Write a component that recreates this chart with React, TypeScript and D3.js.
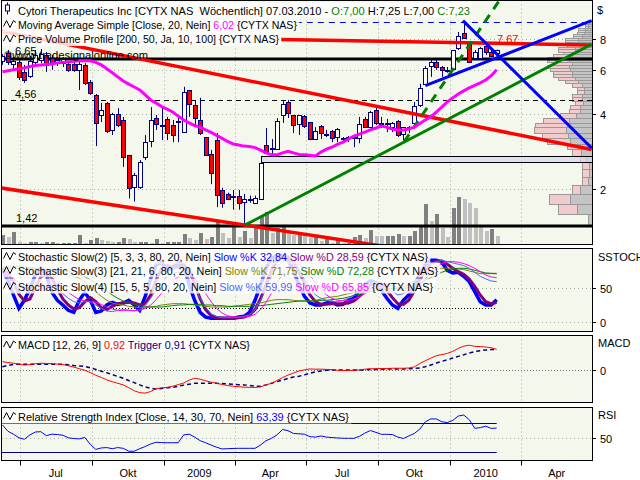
import React, { useEffect, useRef } from "react";
import * as d3 from "d3";

// ---------------- DATA ----------------
const weekStart = "2008-06-09";
const weekEnd = "2010-03-01";

const opens = [6.55, 7.02, 6.34, 6.46, 5.90, 5.69, 6.46, 6.58, 6.89, 6.71,
  6.46, 6.40, 6.34, 6.34, 6.01, 6.29, 5.38, 4.77, 3.96, 4.43,
  3.45, 4.00, 3.78, 2.74, 2.03, 2.03, 2.69, 3.11, 3.85, 3.61,
  3.82, 3.61, 3.75, 3.38, 4.99, 4.34, 3.78, 3.23, 2.77, 3.14,
  1.98, 1.91, 1.88, 1.88, 1.78, 1.81, 1.76, 1.83, 3.00, 2.92,
  2.89, 3.96, 4.47, 3.96, 3.64, 3.93, 3.71, 3.17, 3.58, 3.32,
  3.41, 3.23, 3.20, 3.23, 3.20, 3.20, 3.82, 3.54, 4.15, 3.68,
  3.68, 3.54, 3.75, 3.32, 3.54, 3.68, 4.34, 5.28, 6.23, 6.46,
  6.17, 6.01, 6.06, 7.35, 8.45, 7.70, 6.71, 6.71, 7.49, 7.09,
  7.00];
const highs = [6.95, 7.22, 6.77, 6.58, 6.29, 6.83, 7.22, 7.29, 7.09, 6.89,
  6.77, 6.77, 6.52, 6.46, 6.46, 6.40, 5.47, 4.81, 4.43, 4.47,
  4.04, 4.22, 3.89, 2.74, 2.32, 2.61, 3.29, 4.26, 3.96, 4.26,
  3.89, 3.78, 3.89, 5.14, 4.99, 4.55, 4.64, 3.23, 2.87, 3.35,
  2.02, 1.93, 1.98, 1.98, 1.91, 1.88, 1.88, 2.61, 3.51, 3.17,
  3.85, 4.55, 4.55, 3.96, 3.96, 3.96, 3.71, 3.54, 3.61, 3.45,
  3.45, 3.51, 3.23, 3.26, 3.29, 3.89, 3.89, 4.11, 4.22, 3.89,
  3.82, 3.71, 3.78, 3.54, 3.58, 4.47, 5.28, 6.23, 6.58, 6.58,
  6.23, 6.17, 7.22, 8.53, 9.44, 7.70, 7.22, 7.42, 7.49, 7.22,
  7.25];
const lows = [6.30, 6.29, 6.01, 5.47, 5.33, 5.58, 6.23, 6.40, 5.90, 6.01,
  6.23, 6.17, 5.90, 5.90, 4.99, 5.23, 4.77, 2.97, 3.71, 3.35,
  3.29, 3.54, 2.45, 1.83, 1.78, 2.00, 2.61, 2.94, 3.45, 3.14,
  3.14, 3.08, 3.08, 3.38, 3.89, 3.54, 3.29, 2.74, 2.09, 1.69,
  1.68, 1.81, 1.65, 1.65, 1.42, 1.76, 1.75, 1.81, 2.77, 2.69,
  2.89, 3.68, 3.85, 3.35, 3.29, 3.51, 3.14, 3.14, 3.17, 3.23,
  3.08, 3.08, 3.05, 3.08, 2.94, 3.05, 3.51, 3.51, 3.61, 3.51,
  3.38, 3.38, 3.23, 3.14, 3.35, 3.61, 4.26, 5.23, 5.63, 6.01,
  5.63, 5.85, 6.01, 7.22, 8.07, 6.40, 6.58, 6.58, 6.89, 6.77,
  7.00];
const closes = [6.85, 6.46, 6.52, 5.63, 5.47, 6.52, 6.89, 6.96, 6.29, 6.34,
  6.58, 6.65, 6.01, 6.01, 6.34, 5.33, 4.86, 3.68, 4.15, 3.41,
  4.00, 3.61, 2.69, 2.02, 2.27, 2.57, 3.08, 3.78, 3.64, 3.60,
  3.35, 3.29, 3.71, 4.90, 4.39, 3.85, 3.35, 2.74, 2.32, 1.89,
  1.75, 1.83, 1.86, 1.75, 1.83, 1.83, 1.84, 2.55, 2.79, 2.89,
  3.75, 4.39, 4.04, 3.61, 3.96, 3.58, 3.17, 3.41, 3.35, 3.31,
  3.20, 3.48, 3.19, 3.22, 3.23, 3.64, 3.54, 4.07, 3.68, 3.67,
  3.67, 3.68, 3.29, 3.54, 3.53, 4.30, 5.09, 6.12, 6.46, 6.17,
  6.01, 6.00, 7.22, 8.22, 8.10, 6.46, 7.09, 7.35, 7.09, 6.83,
  7.23];
const volumes = [900, 700, 1200, 200, 130, 230, 230, 130, 230, 230,
  130, 130, 130, 130, 900, 130, 400, 630, 400, 300,
  230, 230, 630, 470, 230, 230, 230, 130, 470, 70,
  230, 230, 230, 1000, 630, 400, 1130, 470, 730, 2230,
  1130, 570, 2070, 730, 1330, 630, 1730, 2730, 3230, 1070,
  1570, 1730, 1070, 900, 900, 800, 630, 800, 300, 470,
  130, 400, 130, 130, 670, 900, 630, 1400, 830, 800,
  800, 800, 1000, 800, 800, 1300, 1700, 4000, 2330, 3000,
  1600, 730, 3630, 4730, 4500, 4070, 3630, 1730, 1300, 1500,
  800];
const ma20 = [5.90, 5.96, 6.01, 6.07, 6.12, 6.20, 6.26, 6.29, 6.32, 6.35,
  6.41, 6.44, 6.47, 6.50, 6.53, 6.53, 6.53, 6.44, 6.29, 6.07,
  5.85, 5.63, 5.42, 5.27, 5.13, 4.99, 4.77, 4.55, 4.42, 4.28,
  4.18, 4.07, 3.92, 3.78, 3.68, 3.59, 3.54, 3.45, 3.37, 3.28,
  3.19, 3.10, 3.03, 3.00, 2.97, 2.96, 2.93, 2.86, 2.79, 2.74,
  2.74, 2.79, 2.83, 2.79, 2.75, 2.74, 2.73, 2.71, 2.81, 2.89,
  2.94, 3.02, 3.08, 3.17, 3.26, 3.32, 3.38, 3.45, 3.51, 3.58,
  3.53, 3.48, 3.45, 3.45, 3.48, 3.54, 3.66, 3.78, 3.89, 4.07,
  4.26, 4.47, 4.64, 4.81, 4.95, 5.09, 5.21, 5.33, 5.47, 5.69,
  6.02];

const stoch2K = [77, 62, 40, 20, 32, 50, 70, 80, 70, 44,
  32, 25, 17, 14, 32, 44, 32, 14, 16, 25,
  29, 26, 28, 32, 25, 17, 38, 65, 85, 89,
  77, 80, 89, 85, 55, 32, 14, 7, 5, 5,
  5, 5, 5, 7, 8, 14, 32, 55, 80, 95,
  99, 99, 92, 77, 55, 38, 28, 25, 25, 28,
  29, 25, 26, 32, 35, 47, 56, 61, 59, 47,
  35, 25, 20, 32, 40, 55, 70, 85, 92, 92,
  89, 77, 73, 74, 68, 60, 45, 30, 25, 25,
  32.84];
const stoch2D = [80, 72, 60, 41, 31, 34, 51, 67, 73, 65,
  49, 34, 25, 19, 21, 30, 36, 30, 21, 18,
  23, 27, 28, 29, 28, 25, 27, 40, 63, 80,
  84, 82, 82, 85, 76, 57, 34, 18, 9, 6,
  5, 5, 5, 6, 7, 10, 18, 34, 56, 77,
  91, 98, 97, 89, 75, 57, 40, 30, 26, 26,
  27, 27, 27, 28, 31, 38, 46, 55, 59, 56,
  47, 36, 27, 26, 32, 46, 62, 77, 87, 91,
  91, 86, 80, 75, 71, 64, 53, 40, 30, 27,
  28.59];
const stoch3K = [82, 83, 84, 83, 82, 81, 80, 79, 78, 77,
  75, 72, 70, 68, 65, 60, 52, 45, 38, 32,
  28, 26, 25, 23, 22, 21, 21, 22, 23, 25,
  26, 27, 27, 27, 26, 25, 24, 23, 22, 22,
  22, 22, 23, 24, 25, 26, 27, 28, 30, 32,
  33, 33, 33, 32, 31, 31, 31, 32, 34, 36,
  37, 38, 40, 42, 44, 46, 48, 50, 51, 51,
  50, 50, 50, 52, 56, 62, 67, 72, 76, 79,
  80, 80, 80, 79, 78, 76, 74, 72, 72, 72,
  71.75];
const stoch3D = [80, 80, 80, 80, 80, 80, 80, 79, 79, 78,
  78, 77, 75, 73, 70, 67, 63, 58, 52, 46,
  40, 35, 31, 28, 26, 24, 23, 22, 22, 22,
  23, 24, 25, 25, 26, 26, 26, 25, 25, 24,
  24, 23, 23, 23, 23, 23, 24, 24, 25, 26,
  27, 28, 29, 30, 31, 31, 31, 31, 32, 32,
  33, 34, 35, 37, 39, 41, 43, 45, 47, 48,
  49, 50, 50, 50, 51, 53, 57, 62, 66, 70,
  74, 77, 79, 80, 80, 79, 77, 75, 73, 72.5,
  72.28];
const stoch4K = [70, 65, 58, 50, 45, 45, 50, 55, 57, 55,
  50, 42, 35, 30, 28, 30, 30, 25, 20, 16,
  15, 17, 18, 17, 16, 18, 25, 35, 48, 60,
  68, 72, 74, 73, 65, 50, 35, 22, 12, 8,
  6, 6, 6, 7, 8, 10, 18, 32, 50, 68,
  82, 90, 92, 88, 78, 64, 50, 40, 35, 32,
  30, 30, 32, 35, 40, 45, 52, 57, 60, 58,
  52, 45, 40, 42, 48, 58, 68, 78, 86, 90,
  92, 90, 88, 86, 84, 80, 74, 68, 64, 61,
  59.99];
const stoch4D = [72, 70, 65, 58, 52, 48, 47, 50, 53, 55,
  54, 50, 44, 38, 33, 31, 30, 29, 26, 22,
  19, 17, 17, 17, 17, 17, 20, 25, 33, 43,
  53, 61, 67, 70, 70, 65, 55, 42, 30, 20,
  13, 9, 7, 7, 7, 8, 11, 18, 29, 43,
  58, 72, 82, 87, 86, 80, 70, 58, 48, 40,
  35, 32, 31, 32, 34, 37, 42, 47, 52, 55,
  56, 54, 50, 46, 45, 48, 55, 64, 73, 81,
  87, 90, 90, 89, 87, 84, 80, 75, 70, 67,
  65.85];

const macdLine = [0.38, 0.34, 0.31, 0.27, 0.23, 0.25, 0.29, 0.31, 0.30, 0.29,
  0.27, 0.25, 0.20, 0.14, 0.07, 0.00, -0.10, -0.22, -0.31, -0.42,
  -0.50, -0.57, -0.64, -0.76, -0.90, -0.98, -1.00, -0.93, -0.80, -0.77,
  -0.75, -0.70, -0.63, -0.56, -0.43, -0.35, -0.39, -0.46, -0.52, -0.57,
  -0.62, -0.67, -0.70, -0.72, -0.74, -0.75, -0.75, -0.73, -0.64, -0.57,
  -0.45, -0.32, -0.21, -0.12, -0.03, 0.02, 0.06, 0.05, 0.05, 0.04,
  0.03, 0.00, -0.01, -0.01, 0.00, 0.02, 0.05, 0.07, 0.07, 0.08,
  0.08, 0.09, 0.09, 0.09, 0.10, 0.15, 0.30, 0.42, 0.53, 0.64,
  0.69, 0.74, 0.83, 0.96, 1.06, 1.10, 1.05, 1.04, 1.02, 0.99,
  0.92];
const macdTrigger = [0.16, 0.21, 0.26, 0.26, 0.26, 0.26, 0.26, 0.26, 0.26, 0.26,
  0.26, 0.26, 0.24, 0.21, 0.19, 0.17, 0.11, 0.04, -0.04, -0.11,
  -0.19, -0.27, -0.35, -0.45, -0.54, -0.64, -0.73, -0.79, -0.83, -0.80,
  -0.77, -0.75, -0.70, -0.65, -0.61, -0.57, -0.57, -0.57, -0.57, -0.57,
  -0.58, -0.60, -0.61, -0.63, -0.64, -0.66, -0.70, -0.70, -0.64, -0.57,
  -0.49, -0.43, -0.36, -0.29, -0.26, -0.20, -0.13, -0.07, -0.03, 0.00,
  0.01, 0.01, 0.01, 0.01, 0.01, 0.01, 0.02, 0.03, 0.04, 0.05,
  0.05, 0.06, 0.06, 0.06, 0.07, 0.08, 0.10, 0.16, 0.23, 0.32,
  0.39, 0.46, 0.54, 0.61, 0.68, 0.76, 0.82, 0.86, 0.89, 0.91,
  0.91];
const rsi = [67.7, 59, 55, 50, 48, 54, 58, 58.4, 53, 55,
  54.5, 53.5, 50, 49, 48.5, 50.5, 41, 34, 36, 36.5,
  35, 36.5, 35.5, 31.5, 31.5, 35, 38, 41.5, 43.8, 43.4,
  43.2, 43.2, 43.2, 54, 55, 51, 46, 43.2, 40, 37,
  34.6, 35, 35.3, 35.5, 35.5, 35.5, 35.5, 40, 46, 49.3,
  54, 61.5, 59.8, 56, 55.5, 55, 51.5, 51, 52.5, 51,
  50.3, 49.8, 49.4, 49.3, 49.3, 52, 56.5, 60, 57.5, 54.8,
  54.8, 54.5, 51, 49, 52.5, 56, 62, 72, 76, 76,
  72.2, 71, 74, 80, 81.4, 75, 63.1, 64, 66, 63,
  63.39];

// price volume profile: 50 bins between profileLow and profileHigh
const profileLow = 1.42;
const profileHigh = 9.53;
const profileUp = [4, 15, 22, 12, 4, 3, 3, 6, 11, 13, 22, 24, 26, 25, 23, 16, 12, 12, 9, 10,
  10, 8, 8, 10, 14, 17, 20, 20, 22, 23, 20, 23, 22, 20, 15, 17, 17, 13, 12, 14,
  14, 10, 10, 8, 7, 7, 4, 4, 2, 2];
const profileDown = [0, 19, 21, 8, 6, 7, 7, 6, 9, 12, 23, 26, 32, 32, 26, 16, 11, 10, 8, 10,
  10, 7, 7, 10, 13, 17, 19, 19, 20, 22, 19, 22, 23, 19, 14, 17, 17, 12, 12, 13,
  13, 9, 9, 7, 7, 7, 3, 3, 1, 0];
const bandBin = 7;
const bandStart = "2009-05-05";

const priceTicks = [2, 4, 6, 8];
const supportLevels = [6.65, 1.42];
const dashedLevel = 4.56;
const highLevel = { start: "2009-06-18", price: 9.35 };
const redUpper = [{ d: "2008-06-06", p: 8.61 }, { d: "2010-06-30", p: 2.88 }];
const redLower = [{ d: "2008-06-06", p: 2.02 }, { d: "2010-06-30", p: 0.878 }];
const redTop = [{ d: "2009-05-30", p: 7.96 }, { d: "2010-06-30", p: 7.56 }];
const blueDown = [{ d: "2010-01-17", p: 9.47 }, { d: "2010-06-30", p: 2.92 }];
const blueUp = [{ d: "2009-11-30", p: 5.19 }, { d: "2010-06-30", p: 9.47 }];
const greenSolid = [{ d: "2009-04-14", p: 1.43 }, { d: "2010-06-30", p: 7.61 }];
const greenDashed = [{ d: "2009-11-03", p: 3.09 }, { d: "2010-03-20", p: 13.5 }];
const quarterLabels = ["Jul", "Okt", "2009", "Apr", "Jul", "Okt", "2010", "Apr"];

// ---------------- DRAWING ----------------
const FONT = "'Liberation Sans', Arial, sans-serif";
const NAVY = "#000080";
const BG = "#f4f8ec";
const L = 2, R = 592;

function draw(el: SVGSVGElement) {
  const svg = d3.select(el);
  svg.selectAll("*").remove();
  const parse = d3.timeParse("%Y-%m-%d");
  const dates = d3.timeMonday.range(parse(weekStart)!, d3.timeDay.offset(parse(weekEnd)!, 1));
  const x = d3.scaleTime().domain([new Date(2008, 6, 1), new Date(2010, 3, 1)]).range([19.7, 521]);
  const xi = (i: number) => x(dates[i]);
  const lastX = xi(dates.length - 1);
  const quarters = d3.timeMonth.range(new Date(2008, 6, 1), new Date(2010, 4, 1), 3);
  const defs = svg.append("defs");
  const borders: [number, number][] = [];

  const panel = (id: string, t: number, b: number) => {
    defs.append("clipPath").attr("id", id).append("rect")
      .attr("x", L).attr("y", t).attr("width", R - L).attr("height", b - t);
    svg.append("rect").attr("x", 1.5).attr("y", t).attr("width", R - 1.5).attr("height", b - t).attr("fill", BG);
    const g = svg.append("g").attr("clip-path", `url(#${id})`);
    quarters.forEach((q) => {
      const qx = Math.round(x(q)) + 0.5;
      g.append("line").attr("x1", qx).attr("x2", qx).attr("y1", t).attr("y2", b)
        .attr("stroke", "#a9ada3").attr("stroke-dasharray", "1,3");
    });
    borders.push([t, b]);
    return g;
  };
  const hgrid = (g: any, yy: number) => {
    g.append("line").attr("x1", L).attr("x2", R).attr("y1", Math.round(yy) + 0.5).attr("y2", Math.round(yy) + 0.5)
      .attr("stroke", "#a9ada3").attr("stroke-dasharray", "1,3");
  };
  const addText = (g: any, tx: number, base: number, parts: [string, string][], box: boolean, icon: string | null,
    anchor = "start", endX: number | null = null) => {
    const t = g.append("text").attr("x", tx).attr("y", base).attr("font-family", FONT)
      .attr("font-size", 11).attr("text-anchor", anchor).style("white-space", "pre");
    parts.forEach(([s, c]) => t.append("tspan").attr("fill", c).text(s));
    if (endX !== null) t.attr("textLength", endX - tx).attr("lengthAdjust", "spacingAndGlyphs");
    if (box) {
      const bb = (t.node() as SVGTextElement).getBBox();
      g.insert("rect", () => t.node()).attr("x", 2).attr("y", base - 12).attr("width", bb.x + bb.width + 2 - 2)
        .attr("height", 15).attr("fill", "#ffffff").attr("opacity", 0.82);
    }
    if (icon === "wave") {
      g.append("path").attr("d", `M3.5,${base - 2} L6.5,${base - 8} L10,${base - 1} L13.5,${base - 8} L16,${base - 6}`)
        .attr("fill", "none").attr("stroke", "#000").attr("stroke-width", 1);
    } else if (icon === "candle") {
      g.append("line").attr("x1", 7.5).attr("x2", 7.5).attr("y1", base - 12).attr("y2", base).attr("stroke", NAVY);
      g.append("rect").attr("x", 5.5).attr("y", base - 9.5).attr("width", 4).attr("height", 6)
        .attr("fill", "#fff").attr("stroke", NAVY);
    }
    return t;
  };
  const seg = (g: any, pts: { d: string; p: number }[], yS: any, color: string, w: number, dash?: string) => {
    const ln = g.append("line")
      .attr("x1", x(parse(pts[0].d)!)).attr("y1", yS(pts[0].p))
      .attr("x2", x(parse(pts[1].d)!)).attr("y2", yS(pts[1].p))
      .attr("stroke", color).attr("stroke-width", w);
    if (dash) ln.attr("stroke-dasharray", dash);
  };

  // ===== MAIN PANEL =====
  const mT = 0.5, mB = 244.5;
  const y = d3.scaleLog().domain([1, 10]).range([263.9, 263.9 - 108.2 * Math.LN10]);
  const yv = d3.scaleLinear().domain([0, 5000]).range([244, 194]);
  const main = panel("clipMain", mT, mB);
  priceTicks.forEach((v) => hgrid(main, y(v)));

  // volume
  volumes.forEach((v, i) => {
    const cx = Math.round(xi(i));
    const up = i === 0 || v >= volumes[i - 1];
    main.append("rect").attr("x", cx - 1).attr("y", yv(v)).attr("width", 4).attr("height", yv(0) - yv(v))
      .attr("fill", up ? "#808080" : "#c0c0c0").attr("shape-rendering", "crispEdges");
  });

  // volume profile
  const binW = (profileHigh - profileLow) / profileUp.length;
  const px = d3.scaleLinear().domain([0, 60]).range([0, 60]);
  profileUp.forEach((u, k) => {
    const lo = profileLow + k * binW, hi = lo + binW;
    const y0 = Math.round(y(lo)) + 0.5, y1 = Math.round(y(hi)) + 0.5;
    const dn = profileDown[k];
    if (dn > 0) main.append("rect").attr("x", Math.round(R - px(u) - px(dn)) + 0.5).attr("y", y1)
      .attr("width", px(dn)).attr("height", y0 - y1).attr("fill", "#f2cccc").attr("stroke", "#999");
    main.append("rect").attr("x", Math.round(R - px(u)) + 0.5).attr("y", y1)
      .attr("width", px(u) + 2).attr("height", y0 - y1).attr("fill", "#c4c4c4").attr("stroke", "#999");
  });
  {
    const lo = profileLow + bandBin * binW, hi = lo + binW;
    const bx = Math.round(x(parse(bandStart)!)) + 0.5;
    main.append("rect").attr("x", bx).attr("y", Math.round(y(hi)) + 0.5).attr("width", R - bx + 2)
      .attr("height", Math.round(y(lo)) - Math.round(y(hi))).attr("fill", "#d6d6f0").attr("fill-opacity", 0.7)
      .attr("stroke", "#000");
  }

  // horizontal levels
  supportLevels.forEach((v) => {
    main.append("line").attr("x1", L).attr("x2", R).attr("y1", y(v)).attr("y2", y(v))
      .attr("stroke", "#000").attr("stroke-width", 3);
  });
  main.append("line").attr("x1", L).attr("x2", R).attr("y1", Math.round(y(dashedLevel)) + 0.5).attr("y2", Math.round(y(dashedLevel)) + 0.5)
    .attr("stroke", "#000").attr("stroke-dasharray", "5,4");
  main.append("line").attr("x1", x(parse(highLevel.start)!)).attr("x2", R)
    .attr("y1", Math.round(y(highLevel.price)) + 0.5).attr("y2", Math.round(y(highLevel.price)) + 0.5)
    .attr("stroke", "#0000ff").attr("stroke-dasharray", "6,5");

  // candles
  dates.forEach((d, i) => {
    const cx = Math.round(xi(i));
    const o = opens[i], c = closes[i];
    main.append("line").attr("x1", cx + 0.5).attr("x2", cx + 0.5).attr("y1", y(highs[i])).attr("y2", y(lows[i]))
      .attr("stroke", NAVY);
    const top = Math.round(y(Math.max(o, c))) + 0.5, bot = Math.round(y(Math.min(o, c))) + 0.5;
    main.append("rect").attr("x", cx - 1.5).attr("y", top).attr("width", 4).attr("height", Math.max(1, bot - top))
      .attr("fill", c >= o ? "#ffffff" : "#ff0000").attr("stroke", NAVY);
  });

  // trendlines
  seg(main, redUpper, y, "#ff0000", 3.5);
  seg(main, redLower, y, "#ff0000", 3.5);
  seg(main, redTop, y, "#ff0000", 3.5);
  seg(main, greenSolid, y, "#008000", 3);
  seg(main, greenDashed, y, "#008000", 3, "9,7");
  seg(main, blueDown, y, "#0000ff", 3);
  seg(main, blueUp, y, "#0000ff", 3);

  // moving average
  main.append("path").datum(ma20)
    .attr("d", d3.line<number>().x((_, i) => xi(i)).y((v) => y(v)))
    .attr("fill", "none").attr("stroke", "#ff00ff").attr("stroke-width", 3);

  // level labels
  addText(main, 15, 55, [["6,65", "#000"]], false, null);
  addText(main, 4, 58.5, [["©www.tradesignalonline.com", "#000"]], false, null, "start", 148);
  addText(main, 15, 98, [["4,56", "#000"]], false, null);
  addText(main, 16, 221.5, [["1,42", "#000"]], false, null);
  addText(main, 497, 42.5, [["7,67", "#ff0000"]], false, null);

  // header labels
  addText(main, 18, 14.5, [["Cytori Therapeutics Inc [CYTX NAS  Wöchentlich] 07.03.2010 - ", "#000"], ["O:7,00", "#008000"],
    [" H:7,25 L:7,00 ", "#000"], ["C:7,23", "#008000"]], true, "candle", "start", 470);
  addText(main, 18, 28.5, [["Moving Average Simple [Close, 20, Nein] ", "#000"], ["6,02", "#ff00ff"], [" {CYTX NAS}", "#000"]],
    true, "wave", "start", 297);
  addText(main, 18, 43, [["Price Volume Profile [200, 50, Ja, 10, 100] {CYTX NAS}", "#000"]], true, "wave", "start", 279);

  // right axis main
  priceTicks.forEach((v) => {
    const yy = Math.round(y(v)) + 0.5;
    svg.append("line").attr("x1", R).attr("x2", R + 4).attr("y1", yy).attr("y2", yy).attr("stroke", "#000");
    addText(svg, 600, yy + 4, [[String(v), "#000"]], false, null);
  });
  addText(svg, 597, 14, [["$", "#000"]], false, null);

  // ===== STOCHASTIC =====
  const sT = 248.5, sB = 331.5;
  const ys = d3.scaleLinear().domain([0, 100]).range([321.7, 254.9]);
  const st = panel("clipStoch", sT, sB);
  [0, 50].forEach((v) => hgrid(st, ys(v)));
  st.append("line").attr("x1", L).attr("x2", lastX).attr("y1", Math.round(ys(20)) + 0.5).attr("y2", Math.round(ys(20)) + 0.5)
    .attr("stroke", "#000").attr("stroke-dasharray", "1,2");
  const sline = (data: number[], color: string, w: number) => {
    st.append("path").datum(data).attr("d", d3.line<number>().x((_, i) => xi(i)).y((v) => ys(v)))
      .attr("fill", "none").attr("stroke", color).attr("stroke-width", w);
  };
  sline(stoch2K, "#0000ff", 3.5);
  sline(stoch2D, "#800080", 3);
  sline(stoch3K, "#808000", 1);
  sline(stoch3D, "#008000", 1);
  sline(stoch4K, "#4a6cf0", 1);
  sline(stoch4D, "#ff00ff", 1);
  addText(st, 18, 260.5, [["Stochastic Slow(2) [5, 3, 3, 80, 20, Nein] ", "#000"], ["Slow %K 32,84", "#0000ff"], [" ", "#000"],
    ["Slow %D 28,59", "#800080"], [" {CYTX NAS}", "#000"]], true, "wave", "start", 428);
  addText(st, 18, 274.5, [["Stochastic Slow(3) [21, 21, 6, 80, 20, Nein] ", "#000"], ["Slow %K 71,75", "#808000"], [" ", "#000"],
    ["Slow %D 72,28", "#008000"], [" {CYTX NAS}", "#000"]], true, "wave", "start", 438);
  addText(st, 18, 290.5, [["Stochastic Slow(4) [15, 5, 5, 80, 20, Nein] ", "#000"], ["Slow %K 59,99", "#4a6cf0"], [" ", "#000"],
    ["Slow %D 65,85", "#ff00ff"], [" {CYTX NAS}", "#000"]], true, "wave", "start", 433);
  [0, 50].forEach((v) => {
    const yy = Math.round(ys(v)) + 0.5;
    svg.append("line").attr("x1", R).attr("x2", R + 4).attr("y1", yy).attr("y2", yy).attr("stroke", "#000");
    addText(svg, 600, yy + 4, [[String(v), "#000"]], false, null);
  });
  addText(svg, 598, 261, [["SSTOCH", "#000"]], false, null);

  // ===== MACD =====
  const cT = 335.5, cB = 402.5;
  const ym = d3.scaleLinear().domain([0, 1]).range([370.3, 347.5]);
  const mc = panel("clipMacd", cT, cB);
  mc.append("line").attr("x1", L).attr("x2", R).attr("y1", Math.round(ym(0)) + 0.5).attr("y2", Math.round(ym(0)) + 0.5)
    .attr("stroke", "#707070").attr("stroke-dasharray", "1,2");
  mc.append("path").datum(macdTrigger).attr("d", d3.line<number>().x((_, i) => xi(i)).y((v) => ym(v)))
    .attr("fill", "none").attr("stroke", NAVY).attr("stroke-width", 1.5).attr("stroke-dasharray", "4,3");
  mc.append("path").datum(macdLine).attr("d", d3.line<number>().x((_, i) => xi(i)).y((v) => ym(v)))
    .attr("fill", "none").attr("stroke", "#ff0000").attr("stroke-width", 1);
  addText(mc, 18, 349, [["MACD [12, 26, 9] ", "#000"], ["0,92", "#ff0000"], [" ", "#000"], ["Trigger 0,91", NAVY], [" {CYTX NAS}", "#000"]],
    true, "wave", "start", 250);
  {
    const yy = Math.round(ym(0)) + 0.5;
    svg.append("line").attr("x1", R).attr("x2", R + 4).attr("y1", yy).attr("y2", yy).attr("stroke", "#000");
    addText(svg, 600, yy + 4, [["0", "#000"]], false, null);
  }
  addText(svg, 598, 347, [["MACD", "#000"]], false, null);

  // ===== RSI =====
  const rT = 407.5, rB = 460.5;
  const yr = d3.scaleLinear().domain([30, 70]).range([452.3, 423.3]);
  const rs = panel("clipRsi", rT, rB);
  hgrid(rs, yr(50));
  [30, 70].forEach((v) => {
    rs.append("line").attr("x1", L).attr("x2", lastX).attr("y1", Math.round(yr(v)) + 0.5).attr("y2", Math.round(yr(v)) + 0.5)
      .attr("stroke", NAVY).attr("stroke-width", 1.2);
  });
  rs.append("path").datum(rsi).attr("d", d3.line<number>().x((_, i) => xi(i)).y((v) => yr(v)))
    .attr("fill", "none").attr("stroke", "#0000ff").attr("stroke-width", 1);
  addText(rs, 18, 420.5, [["Relative Strength Index [Close, 14, 30, 70, Nein] ", "#000"], ["63,39", "#0000ff"], [" {CYTX NAS}", "#000"]],
    true, "wave", "start", 349);
  {
    const yy = Math.round(yr(50)) + 0.5;
    svg.append("line").attr("x1", R).attr("x2", R + 4).attr("y1", yy).attr("y2", yy).attr("stroke", "#000");
    addText(svg, 600, yy + 4, [["50", "#000"]], false, null);
  }
  addText(svg, 598, 419, [["RSI", "#000"]], false, null);

  // borders
  borders.forEach(([t, b]) => {
    svg.append("rect").attr("x", 1.5).attr("y", t).attr("width", R - 1.5 + 0.5).attr("height", b - t)
      .attr("fill", "none").attr("stroke", "#000");
  });

  // x axis
  quarters.forEach((q, k) => {
    const qx = Math.round(x(q)) + 0.5;
    svg.append("line").attr("x1", qx).attr("x2", qx).attr("y1", rB).attr("y2", rB + 5).attr("stroke", "#000");
    const nx = x(d3.timeMonth.offset(q, 3));
    addText(svg, (x(q) + nx) / 2, 477, [[quarterLabels[k], "#000"]], false, null, "middle");
  });
}

export default function App() {
  const ref = useRef<SVGSVGElement>(null);
  useEffect(() => {
    if (ref.current) draw(ref.current);
  }, []);
  return (
    <svg ref={ref} width={640} height={480}
      style={{ position: "absolute", left: 0, top: 0, background: "#ffffff", display: "block" }} />
  );
}
